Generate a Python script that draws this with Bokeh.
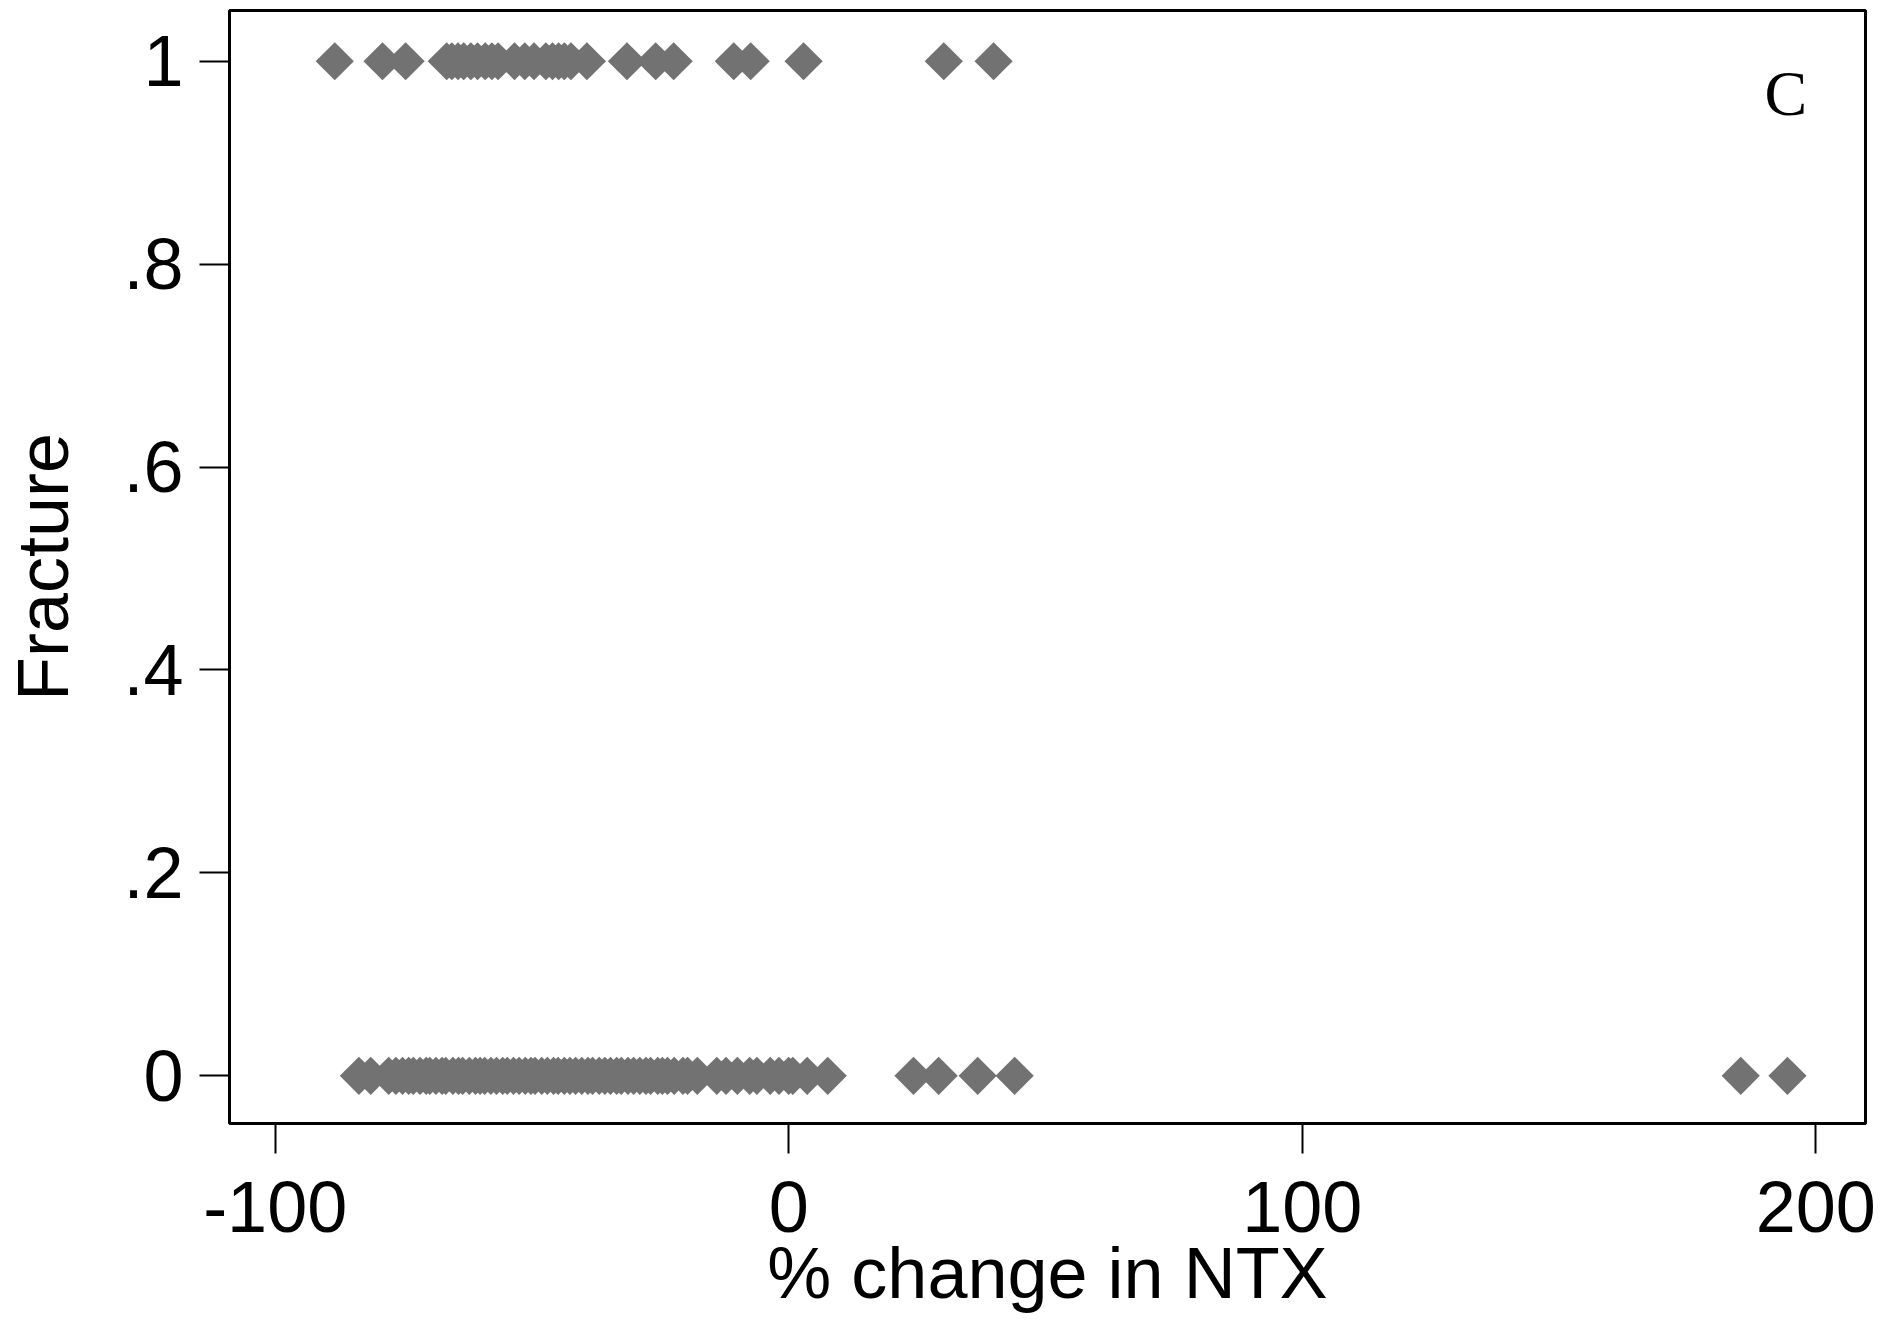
import numpy as np
from bokeh.plotting import figure
from bokeh.models import FixedTicker, Label, Range1d, ColumnDataSource
from bokeh.embed import file_html
from bokeh.resources import INLINE

# Data: % change in NTX for subjects with fracture = 1 and fracture = 0
ntx_fracture = [-88.4, -79.1, -74.6, -66.6, -65.6, -64.4, -63.3, -61.9, -60.6, -59.1, -57.8, -56.6,
                -53.4, -51.4, -49.6, -47.3, -46.0, -44.8, -43.7, -42.4, -39.3,
                -31.5, -25.9, -22.4, -10.7, -7.4, 2.9, 30.2, 39.9]
ntx_nofracture = [-83.7, -81.4, -77.9,
                  -76.5, -75.2, -74.0, -73.1, -71.8, -70.6, -69.9, -68.7, -67.5, -66.8, -65.4,
                  -64.3, -63.5, -62.2, -61.0, -60.1, -59.2, -58.0, -56.9, -55.7, -54.8, -53.6,
                  -52.5, -51.3, -50.2, -49.4, -48.1, -47.0, -45.8, -44.9, -43.7, -42.6, -41.5,
                  -40.3, -39.1, -38.2, -36.9, -35.8, -34.7, -33.5, -32.6, -31.3, -30.2, -29.0,
                  -27.8, -26.9, -25.5, -24.6, -23.6, -22.3, -20.6, -19.7, -17.8,
                  -14.0, -12.2, -10.0, -7.6, -6.2, -3.6, -1.9, 0.0, 0.8, 3.6, 7.6,
                  24.3, 29.2, 36.8, 44.0, 185.4, 194.5]

x_ticks = [-100, 0, 100, 200]
x_tick_labels = ["-100", "0", "100", "200"]
y_ticks = [0, 0.2, 0.4, 0.6, 0.8, 1]
y_tick_labels = ["0", ".2", ".4", ".6", ".8", "1"]

xs = ntx_fracture + ntx_nofracture
ys = [1] * len(ntx_fracture) + [0] * len(ntx_nofracture)
src = ColumnDataSource(dict(x=xs, y=ys))

p = figure(width=1885, height=1315, output_backend="svg", toolbar_location=None,
           x_range=Range1d(-108.9, 209.7), y_range=Range1d(-0.047, 1.05),
           min_border_left=200, min_border_right=20, min_border_top=10, min_border_bottom=150)

p.background_fill_color = "white"
p.border_fill_color = "white"
p.outline_line_color = "black"
p.outline_line_width = 3
p.xgrid.visible = False
p.ygrid.visible = False

p.scatter("x", "y", source=src, marker="square", angle=np.pi / 4, size=27,
          fill_color="#727272", line_color="#727272", line_width=0)

font = "Liberation Sans"
for ax in (p.xaxis, p.yaxis):
    ax.axis_line_color = None
    ax.major_tick_in = 0
    ax.major_tick_out = 30
    ax.major_tick_line_width = 2
    ax.major_tick_line_color = "black"
    ax.minor_tick_line_color = None
    ax.major_label_text_font = font
    ax.major_label_text_font_size = "72px"
    ax.major_label_text_color = "black"
    ax.axis_label_text_font = font
    ax.axis_label_text_font_size = "72px"
    ax.axis_label_text_font_style = "normal"
    ax.axis_label_text_color = "black"

p.xaxis.ticker = FixedTicker(ticks=x_ticks)
p.yaxis.ticker = FixedTicker(ticks=y_ticks)
p.xaxis.major_label_overrides = {v: s for v, s in zip(x_ticks, x_tick_labels)}
p.yaxis.major_label_overrides = {v: s for v, s in zip(y_ticks, y_tick_labels)}
p.yaxis.major_label_orientation = "horizontal"
p.xaxis.major_label_standoff = 28
p.yaxis.major_label_standoff = 16
p.xaxis.axis_label = "% change in NTX"
p.yaxis.axis_label = "Fracture"
p.xaxis.axis_label_standoff = -2
p.yaxis.axis_label_standoff = 37

p.add_layout(Label(x=194.2, y=0.968, text="C", text_font="Liberation Serif",
                   text_font_size="64px", text_align="center", text_baseline="middle",
                   text_color="black"))

open("out.html", "w").write(file_html(p, INLINE))
